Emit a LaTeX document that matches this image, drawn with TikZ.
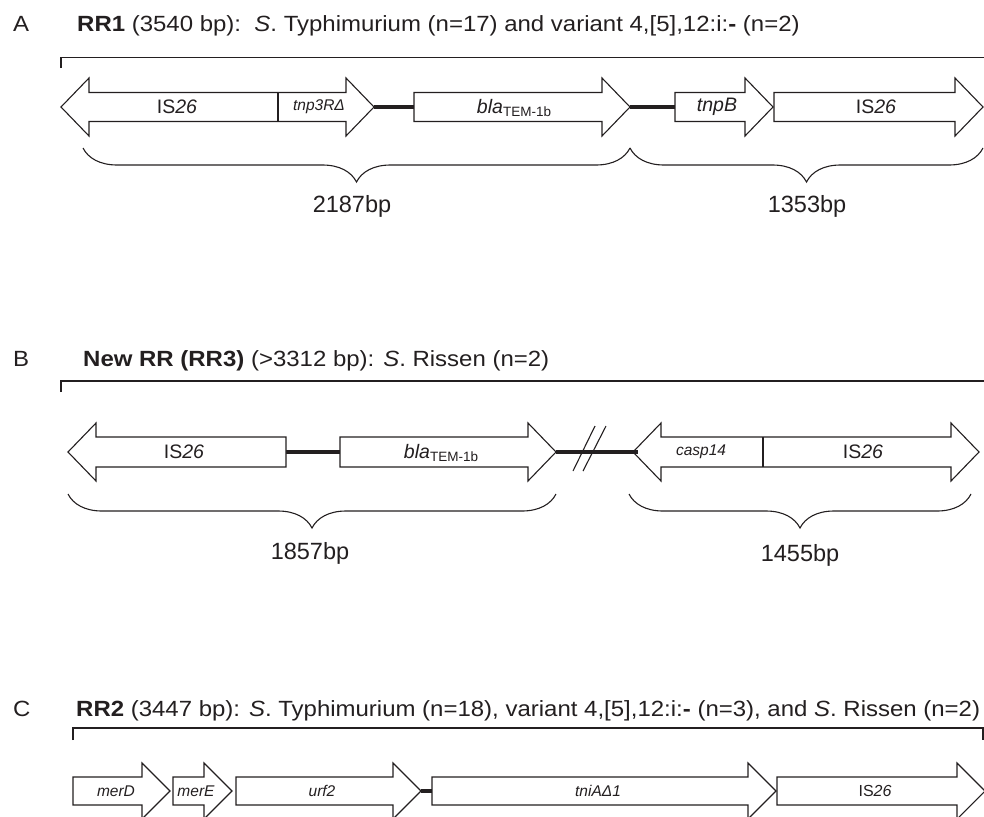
\documentclass[tikz,border=0pt]{standalone}
\usepackage{fontspec}
\setmainfont{Liberation Sans}
\newfontfamily\widesans[FakeStretch=1.09]{Liberation Sans}
\usetikzlibrary{decorations.pathreplacing}
\definecolor{ink}{HTML}{231F20}
\tikzset{
  gene/.style={draw=ink,fill=white,line width=1.1pt,line join=miter},
  spacer/.style={draw=ink,line width=4pt},
  frame/.style={draw=ink,line width=1.4pt},
  segbrace/.style={draw=ink,line width=1.1pt,decorate,decoration={brace,mirror,amplitude=34pt}},
  title/.style={anchor=base west,inner sep=0pt,text=ink,font=\widesans\fontsize{22}{26}\selectfont},
  bplab/.style={anchor=base,inner sep=0pt,text=ink,font=\fontsize{23.5}{27}\selectfont},
  glab/.style={inner sep=0pt,text=ink,font=\fontsize{19.5}{22}\selectfont},
  slab/.style={inner sep=0pt,text=ink,font=\fontsize{15.5}{18}\selectfont\itshape},
}
% #1 left x, #2 right x, #3 centre y, #4 half body, #5 half head
\newcommand{\fwdgene}[5]{\draw[gene] (#1,#3-#4)--(#2-28,#3-#4)--(#2-28,#3-#5)--(#2,#3)
  --(#2-28,#3+#5)--(#2-28,#3+#4)--(#1,#3+#4)--cycle;}
\newcommand{\revgene}[5]{\draw[gene] (#2,#3-#4)--(#1+28,#3-#4)--(#1+28,#3-#5)--(#1,#3)
  --(#1+28,#3+#5)--(#1+28,#3+#4)--(#2,#3+#4)--cycle;}
\newcommand{\dblgene}[5]{\draw[gene] (#1,#3)--(#1+28,#3-#5)--(#1+28,#3-#4)--(#2-28,#3-#4)
  --(#2-28,#3-#5)--(#2,#3)--(#2-28,#3+#5)--(#2-28,#3+#4)--(#1+28,#3+#4)--(#1+28,#3+#5)--cycle;}
\newcommand{\blalab}{\textit{bla}{\fontsize{13.5}{15}\selectfont\raisebox{-0.45ex}{TEM-1b}}}
\begin{document}
\begin{tikzpicture}[x=1pt,y=-1pt]
  \useasboundingbox (0,0) rectangle (984,816);
  \clip (0,0) rectangle (984,816);
  % titles
  \node[title] (la) at (13,31.5) {A};
  \node[title] (ta) at (77,31.5) {\textbf{RR1} (3540 bp):\ \ \textit{S}. Typhimurium (n=17) and variant 4,[5],12:i:\textbf{-} (n=2)};
  \node[title] (lb) at (13,366) {B};
  \node[title] (tb) at (83,366) {\textbf{New RR (RR3)} (>3312 bp): \textit{S}. Rissen (n=2)};
  \node[title] (lc) at (13,716) {C};
  \node[title] (tc) at (76,716) {\textbf{RR2} (3447 bp): \textit{S}. Typhimurium (n=18), variant 4,[5],12:i:\textbf{-} (n=3), and \textit{S}. Rissen (n=2)};
  \draw[frame](61,68)--(61,57.5)--(990,57.5);
  \draw[frame](61,392)--(61,381)--(990,381);
  \draw[frame](73,740)--(73,728)--(983,728)--(983,740);

  % A: RR1
  \coordinate (a1r) at (374,107); \coordinate (a2l) at (414,107);
  \coordinate (a2r) at (630,107); \coordinate (a3l) at (675,107);
  \draw[spacer](a1r)--(a2l);
  \draw[spacer](a2r)--(a3l);
  \dblgene{61}{374}{107}{14.5}{29}
  \draw[gene](278,92.5)--(278,121.5);
  \fwdgene{414}{630}{107}{14.5}{29}
  \fwdgene{675}{773}{107}{14.5}{29}
  \fwdgene{774}{983}{107}{14.5}{29}
  \node[glab] (a1) at (177,107) {IS\textit{26}};
  \node[slab] (a1b) at (319,107) {tnp3RΔ};
  \node[glab] (a2) at (514,108) {\blalab};
  \node[glab] (a3) at (717,107) {\textit{tnpB}};
  \node[glab] (a4) at (876,107) {IS\textit{26}};
  \coordinate (ba1) at (83,148); \coordinate (ba2) at (630,148); \coordinate (ba3) at (983,148);
  \draw[segbrace](ba1)--(ba2);
  \draw[segbrace](ba2)--(ba3);
  \node[bplab] (na) at (352,212) {2187bp};
  \node[bplab] (nb) at (807,212) {1353bp};

  % B: RR3
  \coordinate (b1r) at (286,452); \coordinate (b2l) at (340,452);
  \coordinate (b2r) at (556,452); \coordinate (b3l) at (638,452);
  \draw[spacer](b1r)--(b2l);
  \revgene{68}{286}{452}{15}{29}
  \fwdgene{340}{556}{452}{15}{29}
  \dblgene{633}{979}{452}{15}{29}
  \draw[gene](763,437)--(763,467);
  \draw[spacer](b2r)--(b3l);
  \draw[ink,line width=1.1pt](573,471)--(595,426) (583,471)--(606,426);
  \node[glab] (b1) at (184,452) {IS\textit{26}};
  \node[glab] (b2) at (441,453) {\blalab};
  \node[slab] (b3a) at (701,452) {casp14};
  \node[glab] (b3) at (863,452) {IS\textit{26}};
  \coordinate (bb1) at (68,494); \coordinate (bb2) at (556,494);
  \coordinate (bb3) at (629,494); \coordinate (bb4) at (971,494);
  \draw[segbrace](bb1)--(bb2);
  \draw[segbrace](bb3)--(bb4);
  \node[bplab] (nc) at (310,559) {1857bp};
  \node[bplab] (nd) at (800,561) {1455bp};

  % C: RR2
  \coordinate (c3r) at (421,791); \coordinate (c4l) at (432,791);
  \draw[spacer](c3r)--(c4l);
  \fwdgene{73}{170}{791}{14}{28}
  \fwdgene{173}{232}{791}{14}{28}
  \fwdgene{236}{421}{791}{14}{28}
  \fwdgene{432}{776}{791}{14}{28}
  \fwdgene{777}{985}{791}{14}{28}
  \node[slab] (c1) at (116,791) {merD};
  \node[slab] (c2) at (196,791) {merE};
  \node[slab] (c3) at (322,791) {urf2};
  \node[slab] (c4) at (598,791) {tniAΔ1};
  \node[glab,font=\fontsize{16}{18}\selectfont] (c5) at (875,791) {IS\textit{26}};
\end{tikzpicture}
\end{document}
